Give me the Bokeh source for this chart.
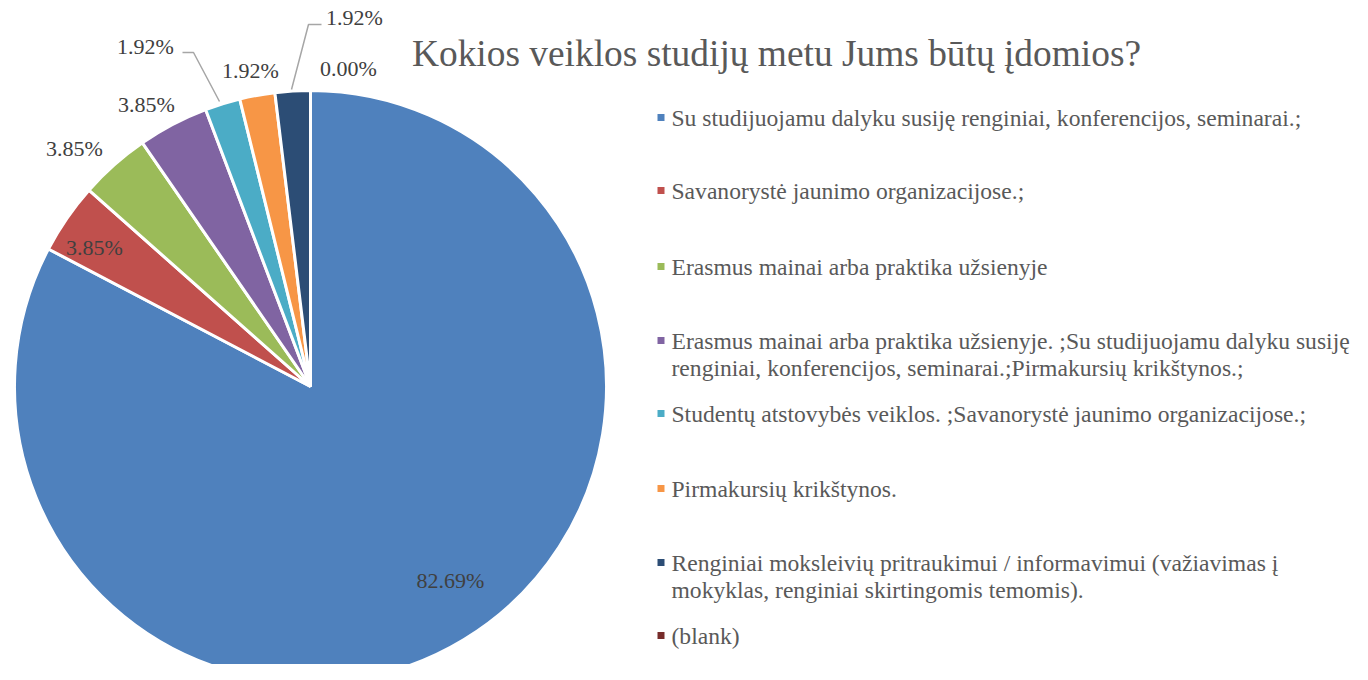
import math
from bokeh.plotting import figure
from bokeh.models import Range1d, ColumnDataSource
from bokeh.core.properties import value
from bokeh.embed import file_html
from bokeh.resources import INLINE

# ---------------- data ----------------
title = "Kokios veiklos studijų metu Jums būtų įdomios?"
categories = [
    "Su studijuojamu dalyku susiję renginiai, konferencijos, seminarai.;",
    "Savanorystė jaunimo organizacijose.;",
    "Erasmus mainai arba praktika užsienyje",
    "Erasmus mainai arba praktika užsienyje. ;Su studijuojamu dalyku susiję\nrenginiai, konferencijos, seminarai.;Pirmakursių krikštynos.;",
    "Studentų atstovybės veiklos. ;Savanorystė jaunimo organizacijose.;",
    "Pirmakursių krikštynos.",
    "Renginiai moksleivių pritraukimui / informavimui (važiavimas į\nmokyklas, renginiai skirtingomis temomis).",
    "(blank)",
]
percentages = [82.69, 3.85, 3.85, 3.85, 1.92, 1.92, 1.92, 0.00]
colors = ["#4F81BD", "#C0504D", "#9BBB59", "#8064A2", "#4BACC6", "#F79646", "#2C4D75", "#772C2A"]

# ---------------- layout (screen px) ----------------
W, H = 1352, 664
def sx(x):
    return x
def sy(y):
    return H - y

CX, CY, R = 310, 386, 296
label_pos = [(450, 580), (94, 247), (74, 148), (146, 104), (145, 46), (250, 70), (354, 17), (348, 68)]
leaders = {4: [(182, 52), (193, 52), (219, 101)], 6: [(321, 24), (308, 24), (291, 89)]}
legend_y = [117, 190, 266, 340, 413, 488, 562, 635]
LEG_LINE = 27
FONT = "Liberation Serif"

p = figure(width=W, height=H, output_backend="svg", toolbar_location=None,
           x_range=Range1d(0, W), y_range=Range1d(0, H), min_border=0,
           background_fill_color="white", border_fill_color="white")
p.axis.visible = False
p.grid.visible = False
p.outline_line_color = None

# pie wedges (clockwise from 12 o'clock)
total = sum(percentages)
starts, ends, wcols = [], [], []
cum = 0.0
for v, c in zip(percentages, colors):
    a0 = math.pi / 2 - 2 * math.pi * cum / total
    cum += v
    a1 = math.pi / 2 - 2 * math.pi * cum / total
    if v > 0:
        starts.append(a1)
        ends.append(a0)
        wcols.append(c)
src = ColumnDataSource(dict(start=starts, end=ends, color=wcols))
p.wedge(x=sx(CX), y=sy(CY), radius=R, start_angle="start", end_angle="end",
        fill_color="color", line_color="white", line_width=3, source=src)

# leader lines
for idx, pts in leaders.items():
    p.line([sx(a) for a, b in pts], [sy(b) for a, b in pts], line_color="#A6A6A6", line_width=1.5)

# data labels
lab_txt = [f"{v:.2f}%" for v in percentages]
p.text(x=[sx(a) for a, b in label_pos], y=[sy(b) for a, b in label_pos], text=lab_txt,
       text_font=value(FONT), text_font_size="22px", text_color="#404040",
       text_align="center", text_baseline="middle")

# title
p.text(x=[sx(776)], y=[sy(53)], text=[title], text_font=value(FONT), text_font_size="37.4px",
       text_color="#595959", text_align="center", text_baseline="alphabetic")

# legend
mx, my, tx, ty, tt = [], [], [], [], []
for cat, c, y in zip(categories, colors, legend_y):
    mx.append(sx(660.5))
    my.append(sy(y))
    for k, line in enumerate(cat.split("\n")):
        tx.append(sx(671))
        ty.append(sy(y + k * LEG_LINE))
        tt.append(line)
p.rect(x=mx, y=my, width=7, height=7, fill_color=colors, line_color=None)
p.text(x=tx, y=ty, text=tt, text_font=value(FONT), text_font_size="23.6px", text_color="#595959",
       text_align="left", text_baseline="middle")

open("out.html", "w").write(file_html(p, INLINE))
